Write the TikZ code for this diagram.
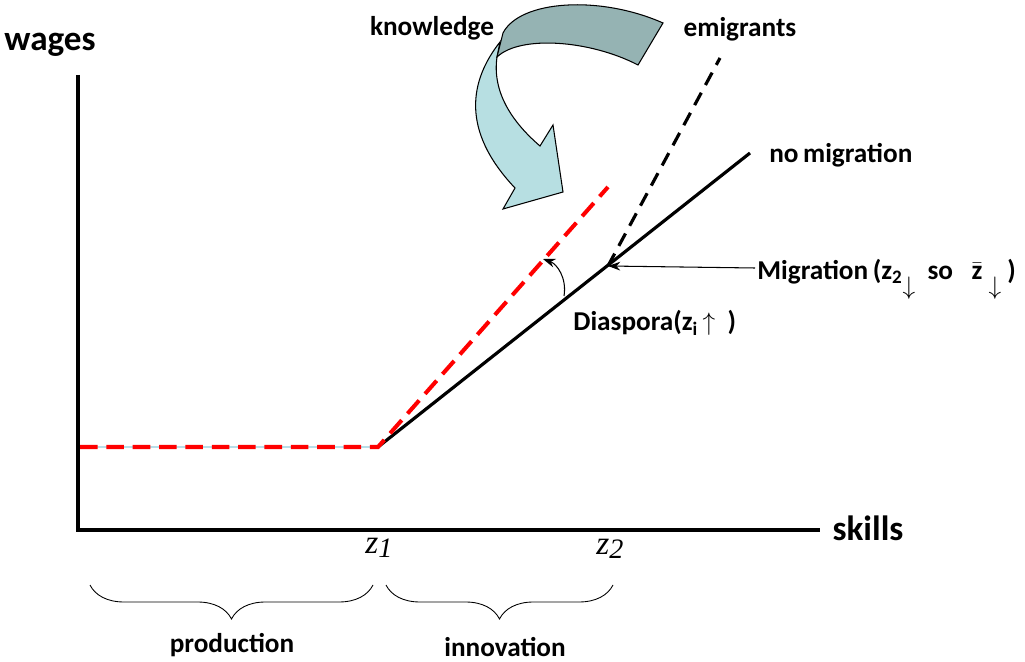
\documentclass[tikz,border=0pt]{standalone}
\usepackage{fontspec}
\setmainfont{Carlito}
\newfontfamily\zfont{Liberation Serif}
\usetikzlibrary{decorations.pathreplacing,arrows.meta}

\definecolor{darkband}{HTML}{95B3B3}
\definecolor{lightband}{HTML}{B7DFE2}
\definecolor{flatblue}{HTML}{B7DEE8}

\tikzset{
  lbl/.style={font=\bfseries\fontsize{15.5}{18}\selectfont, inner sep=0pt},
  biglbl/.style={font=\bfseries\fontsize{20}{24}\selectfont, inner sep=0pt},
  zlbl/.style={font=\zfont\itshape\fontsize{19}{22}\selectfont, inner sep=0pt},
  axis/.style={line width=2.3pt},
  solidwage/.style={line width=1.8pt},
  reddash/.style={red, line width=2.3pt, dash pattern=on 10pt off 5pt},
  blackdash/.style={line width=1.8pt, dash pattern=on 8pt off 5pt},
  brc/.style={decorate, decoration={brace, mirror, amplitude=0.68cm}, line width=0.5pt},
  pointer/.style={line width=0.6pt, -{Stealth[length=7pt,width=5pt]}},
}

\begin{document}
\begin{tikzpicture}[x=0.02cm, y=-0.02cm]
        \useasboundingbox (0,0) rectangle (1025,662);
        % declare points
        \coordinate (top) at (78,75);
        \coordinate (o) at (78,530);
        \coordinate (xend) at (820,530);
        \coordinate (start) at (80,447);
        \coordinate (z1pt) at (378,447);
        \coordinate (z2pt) at (608,266);
        \coordinate (nomig) at (750,153);
        \coordinate (diasp) at (608,187);
        \coordinate (emig) at (720,58);
        \coordinate (d1) at (564,296);
        \coordinate (d2) at (543,259);
        \coordinate (mstart) at (755,268);
        % axes
        \draw[axis] (top) -- (o) -- (xend);
        % wage lines
        \draw[flatblue, line width=1pt] (start) -- (z1pt);
        \draw[solidwage] (z1pt) -- (nomig);
        \draw[reddash] (start) -- (z1pt) -- (diasp);
        \draw[blackdash] (z2pt) -- (emig);
        % knowledge arrow
        \filldraw[fill=lightband, draw=black, line width=0.6pt]
            (500,42) .. controls (470,80) and (460,130) .. (515,188)
            -- (503,209) -- (563,192) -- (553,125) -- (540,146)
            .. controls (512,122) and (492,92) .. (497,57) -- cycle;
        \filldraw[fill=darkband, draw=black, line width=0.6pt]
            (503,33) .. controls (520,0) and (600,-5) .. (663,23)
            -- (638,65) .. controls (590,40) and (520,35) .. (497,57) -- cycle;
        % labels
        \node[biglbl] at (50,45) (wages) {wages};
        \node[biglbl] at (868,528) (skills) {skills};
        \node[lbl] at (432,28) (know) {knowledge};
        \node[lbl] at (740,29) (emlbl) {emigrants};
        \node[lbl, anchor=west] at (769,155) (nomiglbl) {no\,migration};
        \node[lbl, anchor=base west] at (757,280) (miglbl) {Migration\,(z\textsubscript{2}\raisebox{-1.1ex}{$\downarrow$}\ \ so\ \ \ $\bar{\hbox{z}}$\ \raisebox{-1.1ex}{$\downarrow$}\ )};
        \node[lbl, anchor=base west] at (573,331) (dialbl) {Diaspora(z\textsubscript{i}\,$\uparrow$\ \ )};
        \node[zlbl] at (379,548) (z1) {z\raisebox{-0.3ex}{\fontsize{16}{18}\selectfont 1}};
        \node[zlbl] at (610,549) (z2) {z\raisebox{-0.3ex}{\fontsize{16}{18}\selectfont 2}};
        % arrows
        \draw[pointer] (mstart) -- (z2pt);
        \draw[pointer] (d1) .. controls (567,278) and (557,264) .. (d2);
        % braces
        \coordinate (p1) at (90,585);
        \coordinate (p2) at (373,585);
        \coordinate (i1) at (386,585);
        \coordinate (i2) at (613,585);
        \draw[brc] (p1) -- (p2);
        \draw[brc] (i1) -- (i2);
        \node[lbl] at (232,645) (prod) {production};
        \node[lbl] at (505,647) (innov) {innovation};
    \end{tikzpicture}
\end{document}
